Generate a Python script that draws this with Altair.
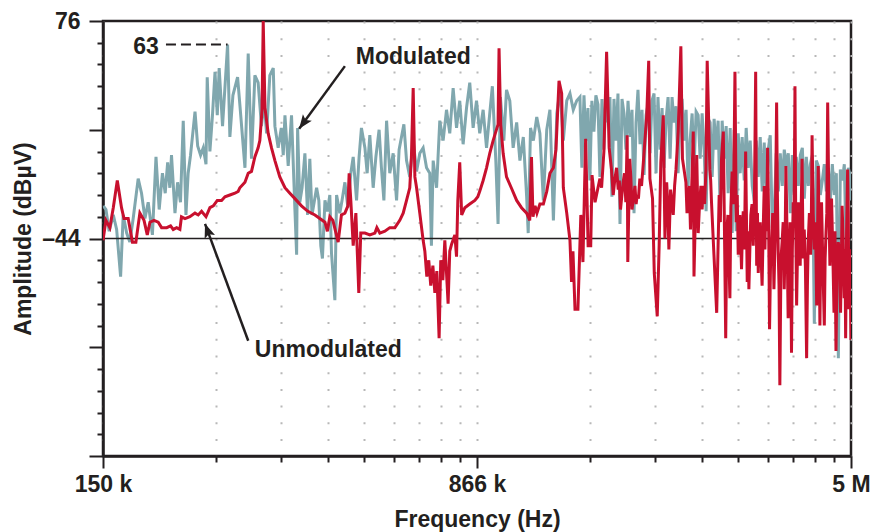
import math
import altair as alt
import pandas as pd

# ---------------- data ----------------
mod_freq_khz = [
    150.2, 152.1, 154.4, 157.4, 159.9, 162.9, 164.9, 167.6, 170.1, 172.8,
    176.9, 179.7, 182.6, 185.4, 189.1, 192.3, 195.2, 198.2, 200.8, 203.1,
    205.2, 206.8, 210.2, 212.8, 215.7, 218.5, 221.3, 223.6, 226.1, 230.9,
    233.8, 237.0, 240.0, 243.1, 244.5, 247.6, 250.6, 253.6, 256.3, 258.6,
    262.7, 269.0, 271.9, 275.8, 281.9, 285.5, 291.8, 296.3, 300.9, 305.7,
    310.4, 315.3, 319.0, 323.0, 327.9, 333.2, 335.8, 341.0, 346.0, 349.2,
    352.0, 357.4, 363.0, 368.8, 371.8, 373.5, 377.4, 381.4, 386.5, 391.4,
    395.5, 399.6, 408.3, 412.6, 416.4, 419.6, 424.6, 429.5, 434.4, 437.8,
    444.8, 448.4, 455.2, 460.0, 466.2, 472.8, 479.3, 484.7, 492.4, 498.3,
    503.8, 512.1, 517.5, 524.0, 532.3, 539.1, 547.3, 553.3, 559.7, 566.8,
    575.4, 584.6, 594.0, 601.1, 614.7, 622.4, 631.9, 642.1, 652.4, 662.3,
    672.8, 683.6, 694.0, 699.4, 705.2, 716.5, 727.4, 738.9, 750.7, 762.2,
    774.4, 786.8, 798.7, 811.5, 824.5, 837.1, 850.5, 864.1, 877.2, 891.3,
    905.6, 919.4, 930.7, 945.9, 955.9, 966.5, 982.1, 994.5, 1010, 1026,
    1043, 1059, 1076, 1093, 1101, 1113, 1128, 1146, 1163, 1182,
    1201, 1219, 1239, 1259, 1278, 1298, 1319, 1339, 1360, 1382,
    1403, 1416, 1430, 1443, 1457, 1470, 1484, 1498, 1512, 1527,
    1541, 1556, 1570, 1585, 1600, 1615, 1630, 1646, 1661, 1677,
    1693, 1709, 1725, 1741, 1758, 1774, 1791, 1808, 1825, 1842,
    1860, 1877, 1895, 1913, 1931, 1949, 1967, 1986, 2005, 2023,
    2043, 2062, 2081, 2101, 2121, 2141, 2161, 2181, 2202, 2223,
    2244, 2265, 2286, 2308, 2330, 2352, 2374, 2396, 2419, 2442,
    2465, 2488, 2512, 2535, 2559, 2583, 2608, 2632, 2657, 2682,
    2708, 2733, 2759, 2785, 2811, 2838, 2865, 2892, 2919, 2947,
    2974, 3002, 3031, 3059, 3088, 3117, 3147, 3176, 3206, 3237,
    3267, 3298, 3329, 3361, 3392, 3424, 3457, 3489, 3522, 3556,
    3589, 3623, 3657, 3692, 3727, 3762, 3797, 3833, 3869, 3906,
    3943, 3980, 4017, 4055, 4093, 4132, 4171, 4210, 4250, 4290,
    4330, 4371, 4412, 4454, 4496, 4538, 4581, 4624, 4668, 4712,
    4756, 4801, 4846, 4892, 4938, 4984, 5000,
]
mod_dbuv = [
    -26, -28, -40, -31, -39, -65, -31, -41, -46, -33,
    -11, -19, -33, -24, -42, 1, -28, -8, -19, -2,
    -16, 2, -30, -13, -24, 21, -31, -8, 2, 26,
    7, 2, 6, -3, 45, 4, 24, 48, 24, 50,
    18, 63, 12, 35, 45, 27, -5, 58, 0, 46,
    42, 18, 32, 14, 46, 50, 18, 6, 17, 2,
    24, -4, 24, -28, -53, 17, -24, -16, 3, -31,
    0, -31, -16, -23, -48, -55, -23, -29, -20, -52,
    -78, -20, -30, -23, -13, -27, -8, 1, -23, 1,
    17, 6, -8, 13, -16, 1, 16, -5, -23, 21,
    -8, 3, -23, 5, 19, -1, -10, 10, -7, 3,
    6, -5, -8, -48, -1, -16, 21, 10, 27, 14,
    39, 17, 32, 8, 28, 42, 17, 32, 14, 27,
    6, 25, 40, -1, -36, 34, 10, 38, 32, 6,
    20, -1, 12, -21, -41, 17, 10, 23, 14, -23,
    16, 27, -34, 25, 38, 10, 32, 36, 27, 32,
    34, -5, 35, 10, 28, -12, 32, 15, 35, 30,
    -10, 33, 5, 36, 20, 34, -21, 33, 10, 36,
    -36, 33, 25, 5, 32, 12, 27, -30, 20, 38,
    8, 27, -9, 24, 30, 3, 32, 36, -8, 34,
    5, 28, -5, 21, 34, 0, 34, 20, 29, -8,
    25, 33, 10, 27, -15, 10, 25, -5, 26, 24,
    0, 25, 5, -29, 22, 20, -10, 22, 5, 21,
    -30, 21, 0, 18, -19, 17, -41, 16, -40, 14,
    -8, 12, -12, 17, -5, 10, -15, -23, 10, -10,
    12, -18, 9, -23, 5, 13, -38, -30, 3, -18,
    3, -15, 5, -4, 3, -30, 2, -20, 1, -15,
    2, 6, -22, 1, -15, -3, 2, -91, -1, -4,
    -20, -12, -3, -18, -5, -23, -3, -20, -8, -110,
    -6, -12, -3, -55, -5, -10, -23,
]

unmod_freq_khz = [
    150.0, 152.1, 154.9, 157.4, 160.4, 163.6, 165.5, 168.8, 172.2, 175.0,
    178.3, 181.8, 184.6, 186.9, 190.5, 194.3, 197.4, 202.2, 205.9, 208.5,
    211.8, 215.1, 216.7, 220.3, 225.4, 230.9, 234.4, 238.1, 243.1, 247.6,
    251.6, 256.3, 261.5, 265.7, 271.9, 278.4, 282.7, 284.9, 291.8, 296.3,
    300.9, 305.7, 310.4, 312.9, 316.1, 317.9, 320.5, 325.4, 330.5, 335.8,
    343.6, 352.0, 360.2, 368.8, 380.3, 391.9, 405.1, 414.5, 424.6, 429.5,
    434.4, 440.7, 451.7, 458.7, 466.2, 472.8, 475.6, 479.3, 484.7, 490.8,
    497.6, 502.2, 512.1, 524.0, 536.6, 541.6, 549.1, 562.3, 575.4, 589.3,
    603.0, 612.7, 622.4, 631.9, 636.8, 642.1, 647.2, 652.4, 662.3, 672.8,
    678.2, 684.5, 690.8, 697.2, 704.2, 710.8, 717.4, 725.1, 730.7, 737.9,
    744.8, 756.3, 762.2, 769.1, 780.6, 786.8, 791.5, 798.7, 806.0, 818.0,
    837.1, 857.3, 869.3, 877.2, 891.3, 905.6, 919.4, 934.0, 955.9, 960.3,
    967.8, 978.9, 994.5, 1017, 1043, 1067, 1093, 1109, 1118, 1126,
    1137, 1147, 1163, 1182, 1201, 1219, 1239, 1254, 1272, 1288,
    1298, 1319, 1339, 1349, 1358, 1371, 1390, 1409, 1423, 1441,
    1458, 1476, 1485, 1506, 1527, 1541, 1553, 1570, 1590, 1609,
    1627, 1653, 1679, 1697, 1718, 1740, 1751, 1756, 1772, 1791,
    1816, 1835, 1858, 1889, 1919, 1937, 1948, 1972, 1988, 2016,
    2034, 2050, 2074, 2090, 2107, 2129, 2146, 2173, 2201, 2224,
    2252, 2269, 2306, 2331, 2356, 2387, 2395, 2426, 2443, 2474,
    2502, 2533, 2548, 2580, 2600, 2630, 2664, 2695, 2725, 2748,
    2779, 2808, 2834, 2847, 2864, 2902, 2920, 2947, 2970, 2993,
    3017, 3051, 3074, 3098, 3126, 3162, 3198, 3213, 3237, 3266,
    3296, 3329, 3351, 3382, 3413, 3444, 3484, 3528, 3554, 3582,
    3620, 3656, 3685, 3724, 3759, 3783, 3814, 3845, 3875, 3904,
    3940, 3975, 4016, 4061, 4091, 4137, 4166, 4210, 4257, 4288,
    4322, 4355, 4412, 4447, 4482, 4529, 4564, 4617, 4660, 4709,
    4761, 4796, 4844, 4876, 4921, 4951, 5000,
]
unmod_dbuv = [
    -45, -34, -38, -27, -12, -27, -33, -33, -46, -46,
    -30, -34, -42, -35, -34, -35, -38, -38, -37, -39,
    -38, -39, -32, -33, -32, -30, -31, -29, -32, -27,
    -26, -23, -23, -21, -20, -19, -18, -16, -13, -8,
    -7, 1, 6, 10, 27, 76, 28, 14, 6, -1,
    -10, -16, -19, -22, -26, -29, -31, -33, -35, -40,
    -32, -34, -46, -31, -30, -26, -8, -23, -48, -30,
    -74, -41, -41, -42, -41, -38, -41, -40, -38, -38,
    -34, -30, -23, -16, 1, 39, -10, -16, -30, -45,
    -51, -65, -56, -70, -59, -74, -62, -99, -56, -67,
    -45, -80, -51, -47, -42, -54, -23, -2, -31, -27,
    -25, -23, -21, -18, -12, -5, 3, 10, 19, 61,
    19, 3, -10, -16, -23, -27, -30, -34, 1, -32,
    -26, -30, -25, -25, -18, -8, -5, 5, 43, 36,
    -16, -30, -45, -68, -51, -83, -83, -31, -57, 11,
    -48, -48, -9, -24, -16, -11, -16, 4, 59, 6,
    -6, -11, -17, -28, -13, -24, 13, -57, 0, -28,
    -15, -20, -11, -2, 24, 54, -11, -22, -63, -87,
    -48, -2, 24, -44, -13, -50, -17, -31, -6, 15,
    62, 0, -13, -22, -39, 15, -65, 2, -41, -15,
    -15, -6, 54, -6, -24, -53, -85, -20, 0, 15,
    -99, -31, -77, -27, -7, 48, -35, -53, -31, -61,
    -29, 4, -68, -72, -31, -48, 48, -59, -63, -35,
    -70, -15, -28, 6, -94, -48, -72, 31, -50, -125,
    -46, -72, -4, -88, -35, -107, -24, 40, -81, -24,
    -59, 0, -39, -110, -46, -53, 13, -50, -81, -4,
    -92, -24, -92, -41, 31, -59, -22, -85, -106, -46,
    -85, -26, -77, -99, -6, -83, -100,
]
# extra readings of the unmodulated trace in its dense upper band
unmod_extra_freq_khz = [
    1640, 1666, 1688, 1729, 1781, 1826, 1846, 1873, 2118, 2187,
    2318, 2343, 2458, 2488, 2517, 2590, 2710,
    2793, 2821, 2883, 2933, 2958, 2981, 3005, 3034, 3062, 3086,
    3112, 3144, 3180, 3225, 3251, 3281, 3312, 3340, 3366, 3397,
    3428, 3464, 3506, 3541, 3568, 3601, 3638, 3670, 3704, 3741,
    3771, 3798, 3829, 3860, 3889, 3922, 3957, 3995, 4038, 4076,
    4114, 4151, 4188, 4233, 4272, 4305, 4338, 4383, 4429, 4464,
    4505, 4546, 4590, 4638, 4684, 4735, 4778, 4820, 4860, 4898,
    4936, 4975,
]
unmod_extra_dbuv = [
    -20, -5, -12, -8, -10, -25, -22, -15, -25, -15,
    -30, -15, -25, -28, -25, -12, -35,
    -40, -55, -25, -20, -40, -45, -40, -50, -30, -40,
    -50, -25, -20, -30, -45, -55, -40, -50, -40, -30,
    -60, -30, -40, -20, -70, -55, -35, -50, -40, -60,
    -60, -50, -30, -40, -55, -40, -30, -55, -60, -70,
    -30, -35, -30, -35, -50, -40, -50, -60, -55, -30,
    -20, -40, -50, -40, -60, -50, -60, -45, -50, -40,
    -30, -50,
]

X_MIN_KHZ, X_MAX_KHZ = 150, 5000
Y_MIN, Y_MAX = -164, 76
REF_LEVEL = -44
PEAK_LABEL = "63"
PEAK_LEVEL = 63
x_tick_text = ["150 k", "866 k", "5 M"]
y_tick_text = ["76", "\u201344"]
series_names = ["Modulated", "Unmodulated"]

# ---------------- styles ----------------
FONT = "Liberation Sans"
INK = "#231f20"
TEAL = "#80a7ae"
RED = "#c8102e"
FS = 23

# axis tick positions: two pseudo-decades of a log axis
ratio = math.sqrt(X_MAX_KHZ / X_MIN_KHZ)
x_mid = X_MIN_KHZ * ratio
x_ticks = []
for start in (X_MIN_KHZ, x_mid):
    for k in range(1, 10):
        x_ticks.append(start * ratio ** math.log10(k))
x_ticks.append(X_MAX_KHZ)
y_ticks = list(range(Y_MIN, Y_MAX + 1, 12))

x_major_test = f"datum.value < {X_MIN_KHZ + 1} || abs(datum.value - {x_mid:.3f}) < 1 || datum.value > {X_MAX_KHZ - 1}"
x_label_expr = (
    f"datum.value < {X_MIN_KHZ + 1} ? '{x_tick_text[0]}' : "
    f"abs(datum.value - {x_mid:.3f}) < 1 ? '{x_tick_text[1]}' : "
    f"datum.value > {X_MAX_KHZ - 1} ? '{x_tick_text[2]}' : ''"
)
y_major_test = f"(datum.value - ({Y_MIN})) % 60 == 0"
y_label_expr = f"datum.value == {Y_MAX} ? '{y_tick_text[0]}' : datum.value == {REF_LEVEL} ? '{y_tick_text[1]}' : ''"

xscale = alt.Scale(type="log", domain=[X_MIN_KHZ, X_MAX_KHZ], nice=False)
yscale = alt.Scale(domain=[Y_MIN, Y_MAX], nice=False, zero=False)

x_axis = alt.Axis(
    values=x_ticks, labelExpr=x_label_expr, title="Frequency (Hz)",
    tickSize={"condition": {"test": x_major_test, "value": 12}, "value": 6},
    tickWidth=2, tickColor=INK, domainColor=INK, domainWidth=2.5,
    grid=True, gridDash=[2, 14.7], gridColor="#b8b8b8", gridWidth=2,
    labelFont=FONT, labelFontSize=FS, labelFontWeight="bold", labelColor=INK,
    labelPadding=5, labelFlush=False, labelOverlap=False,
    titleFont=FONT, titleFontSize=FS, titleFontWeight="bold", titleColor=INK,
    titleY=63, titleBaseline="middle",
)
y_axis = alt.Axis(
    values=y_ticks, labelExpr=y_label_expr, title="Amplitude (dB\u00b5V)",
    tickSize={"condition": {"test": y_major_test, "value": 14}, "value": 6},
    tickWidth=2, tickColor=INK, domainColor=INK, domainWidth=2.5, grid=False,
    labelFont=FONT, labelFontSize=FS, labelFontWeight="bold", labelColor=INK,
    labelPadding=9, labelFlush=False, labelOverlap=False,
    titleFont=FONT, titleFontSize=FS, titleFontWeight="bold", titleColor=INK,
    titleX=-80, titleBaseline="middle",
)


def ex(field):
    return alt.X(field, scale=xscale, axis=x_axis)


def ey(field):
    return alt.Y(field, scale=yscale, axis=y_axis)


mod_df = pd.DataFrame({"freq_khz": mod_freq_khz, "dbuv": mod_dbuv})
unmod_df = pd.DataFrame({
    "freq_khz": unmod_freq_khz + unmod_extra_freq_khz,
    "dbuv": unmod_dbuv + unmod_extra_dbuv,
}).sort_values("freq_khz")

mod_line = alt.Chart(mod_df).mark_line(color=TEAL, strokeWidth=3, clip=True).encode(
    x=ex("freq_khz:Q"), y=ey("dbuv:Q")
)
ref_rule = alt.Chart(pd.DataFrame({"dbuv": [REF_LEVEL]})).mark_rule(
    color=INK, strokeWidth=1.3
).encode(y=ey("dbuv:Q"))
unmod_line = alt.Chart(unmod_df).mark_line(color=RED, strokeWidth=3, clip=True).encode(
    x=ex("freq_khz:Q"), y=ey("dbuv:Q")
)

# annotations (in data coordinates)
label_df = pd.DataFrame({
    "text": series_names,
    "freq_khz": [490.8, 305.7],
    "dbuv": [56.2, -105.4],
})
labels = alt.Chart(label_df).mark_text(
    font=FONT, fontSize=FS, fontWeight="bold", color=INK, align="left", baseline="middle"
).encode(x=ex("freq_khz:Q"), y=ey("dbuv:Q"), text="text:N")

peak_df = pd.DataFrame({"text": [PEAK_LABEL], "freq_khz": [194.9], "dbuv": [61.8]})
peak_text = alt.Chart(peak_df).mark_text(
    font=FONT, fontSize=FS, fontWeight="bold", color=INK, align="right", baseline="middle"
).encode(x=ex("freq_khz:Q"), y=ey("dbuv:Q"), text="text:N")

peak_dash = alt.Chart(pd.DataFrame({"freq_khz": [201.5], "f1": [269.0], "dbuv": [PEAK_LEVEL]})).mark_rule(
    color=INK, strokeWidth=2, strokeDash=[10, 5]
).encode(x=ex("freq_khz:Q"), x2="f1:Q", y=ey("dbuv:Q"))

arrow_df = pd.DataFrame({
    "freq_khz": [466.2, 296.3], "dbuv": [51.1, -100.4],
    "f1": [376.2, 242.0], "d1": [16.5, -35.9],
    "angle": [216, 340],
})
arrow_lines = alt.Chart(arrow_df).mark_rule(color=INK, strokeWidth=2.5).encode(
    x=ex("freq_khz:Q"), x2="f1:Q", y=ey("dbuv:Q"), y2="d1:Q",
)
arrow_heads = alt.Chart(arrow_df).mark_point(
    shape="M0,0 L0.55,1.4 L0,1.1 L-0.55,1.4 Z", filled=True, size=400,
    color=INK, opacity=1, strokeWidth=0,
).encode(
    x=ex("f1:Q"), y=ey("d1:Q"),
    angle=alt.Angle("angle:Q", scale=None),
)

chart = alt.layer(
    mod_line, ref_rule, unmod_line, peak_dash, peak_text, labels, arrow_lines, arrow_heads
).properties(
    width=748, height=435,
    padding={"left": 103, "top": 21, "right": 27, "bottom": 76},
    autosize=alt.AutoSizeParams(type="none"),
    background="white",
).configure(font=FONT).configure_view(
    stroke=INK, strokeWidth=2.5
)

chart.save("out.html", embed_options={"renderer": "svg", "actions": False})
